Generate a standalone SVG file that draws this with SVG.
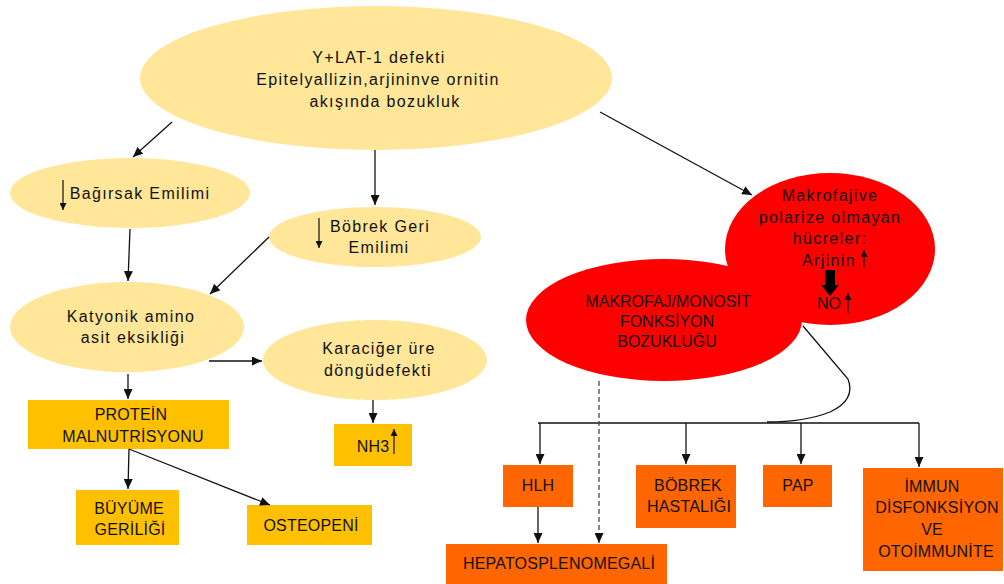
<svg xmlns="http://www.w3.org/2000/svg" width="1004" height="584" viewBox="0 0 1004 584">
<defs>
<marker id="ah" markerUnits="userSpaceOnUse" markerWidth="10" markerHeight="9" refX="10" refY="4.5" orient="auto"><path d="M0,0 L10,4.5 L0,9 z" fill="#111"/></marker>
<marker id="sm" markerUnits="userSpaceOnUse" markerWidth="7" markerHeight="7" refX="7" refY="3.5" orient="auto"><path d="M0,0 L7,3.5 L0,7 z" fill="#111"/></marker>
<style>
.el{fill:#FFE699}
.red{fill:#FF0000}
.yb{fill:#FFC000}
.ob{fill:#FF6600}
text{font-family:"Liberation Sans",Arial,sans-serif;font-size:16px;fill:#111;text-anchor:middle}
.sp{letter-spacing:1.35px}
.cp{letter-spacing:0.2px}
.ln{stroke:#111;stroke-width:1.3;fill:none}
.arr{stroke:#111;stroke-width:1.3;fill:none;marker-end:url(#ah)}
.sa{stroke:#111;stroke-width:1.2;fill:none;marker-end:url(#sm)}
.dash{stroke:#444;stroke-width:1.3;fill:none;stroke-dasharray:5,3;marker-end:url(#ah)}
</style>
</defs>
<g id="top">
<ellipse class="el" cx="376" cy="78" rx="236" ry="72"/>
<text class="sp" x="379" y="63">Y+LAT-1 defekti</text>
<text class="sp" x="378" y="85">Epitelyallizin,arjininve ornitin</text>
<text class="sp" x="385" y="107">akışında bozukluk</text>
</g>
<g id="bagirsak">
<ellipse class="el" cx="130" cy="193" rx="120" ry="35"/>
<text class="sp" x="140" y="199">Bağırsak Emilimi</text>
<line class="sa" x1="63" y1="180" x2="63" y2="210"/>
</g>
<g id="bobrek-geri">
<ellipse class="el" cx="375" cy="237" rx="106" ry="30"/>
<text class="sp" x="380" y="232">Böbrek Geri</text>
<text class="sp" x="379" y="253">Emilimi</text>
<line class="sa" x1="319" y1="218" x2="319" y2="248"/>
</g>
<g id="katyonik">
<ellipse class="el" cx="127" cy="327" rx="117" ry="45"/>
<text class="sp" x="131" y="322">Katyonik amino</text>
<text class="sp" x="133" y="343">asit eksikliği</text>
</g>
<g id="karaciger">
<ellipse class="el" cx="375" cy="360" rx="112" ry="40"/>
<text class="sp" x="379" y="354">Karaciğer üre</text>
<text class="sp" x="378" y="376">döngüdefekti</text>
</g>
<g id="protein">
<rect class="yb" x="28" y="400" width="201" height="49"/>
<text class="cp" x="131" y="420">PROTEİN</text>
<text class="cp" x="133" y="442">MALNUTRİSYONU</text>
</g>
<g id="nh3">
<rect class="yb" x="334" y="424" width="78" height="42"/>
<text class="cp" x="373" y="452">NH3</text>
<line class="sa" x1="394" y1="454" x2="394" y2="429"/>
</g>
<g id="buyume">
<rect class="yb" x="76" y="490" width="103" height="55"/>
<text class="cp" x="129" y="514">BÜYÜME</text>
<text class="cp" x="130" y="535">GERİLİĞİ</text>
</g>
<g id="osteopeni">
<rect class="yb" x="247" y="505" width="125" height="40"/>
<text class="cp" x="311" y="531">OSTEOPENİ</text>
</g>
<g id="makrofaj-polarize">
<ellipse class="red" cx="830" cy="249" rx="105" ry="76"/>
<text class="sp" x="830" y="201">Makrofajive</text>
<text class="sp" x="830" y="223">polarize olmayan</text>
<text class="sp" x="830" y="244">hücreler:</text>
<text class="sp" x="829" y="266">Arjinin</text>
<line class="sa" x1="864" y1="267" x2="864" y2="250"/>
<path d="M825,270 H835 V285 H839 L830,296 L821,285 H825 Z" fill="#000"/>
<text x="829" y="309">NO</text>
<line class="sa" x1="848" y1="313" x2="848" y2="293"/>
</g>
<g id="makrofaj-monosit">
<ellipse class="red" cx="664" cy="320" rx="138" ry="61"/>
<text x="668" y="307">MAKROFAJ/MONOSİT</text>
<text x="667" y="327">FONKSİYON</text>
<text x="667" y="347">BOZUKLUĞU</text>
</g>
<g id="hlh">
<rect class="ob" x="503" y="465" width="70" height="42"/>
<text class="cp" x="538" y="491">HLH</text>
</g>
<g id="bobrek-hastaligi">
<rect class="ob" x="636" y="465" width="100" height="63"/>
<text class="cp" x="688" y="491">BÖBREK</text>
<text class="cp" x="689" y="512">HASTALIĞI</text>
</g>
<g id="pap">
<rect class="ob" x="763" y="465" width="69" height="42"/>
<text class="cp" x="798" y="491">PAP</text>
</g>
<g id="immun">
<rect class="ob" x="863" y="468" width="140" height="103"/>
<text class="cp" x="932" y="492">İMMUN</text>
<text class="cp" x="937" y="513">DİSFONKSİYON</text>
<text class="cp" x="932" y="535">VE</text>
<text class="cp" x="936" y="557">OTOİMMUNİTE</text>
</g>
<g id="hepato">
<rect class="ob" x="446" y="544" width="221" height="40"/>
<text class="cp" x="559" y="569">HEPATOSPLENOMEGALİ</text>
</g>
<g id="connectors">
<line class="arr" x1="172" y1="122" x2="133" y2="157"/>
<line class="arr" x1="375" y1="150" x2="375" y2="205"/>
<line class="arr" x1="130" y1="229" x2="128" y2="281"/>
<line class="arr" x1="269" y1="237" x2="210" y2="294"/>
<line class="arr" x1="209" y1="361" x2="262" y2="361"/>
<line class="arr" x1="128" y1="374" x2="128" y2="399"/>
<line class="arr" x1="373" y1="400" x2="373" y2="423"/>
<line class="arr" x1="129" y1="449" x2="128" y2="489"/>
<line class="arr" x1="129" y1="449" x2="270" y2="505"/>
<line class="arr" x1="600" y1="112" x2="752" y2="195"/>
<path class="ln" d="M803,326 L848,379 Q856,400 830,412 Q805,422 767,422"/>
<path class="ln" d="M538,423 H919"/>
<line class="arr" x1="540" y1="423" x2="540" y2="464"/>
<line class="arr" x1="686" y1="423" x2="686" y2="464"/>
<line class="arr" x1="801" y1="423" x2="801" y2="464"/>
<line class="arr" x1="919" y1="423" x2="919" y2="467"/>
<line class="arr" x1="538" y1="507" x2="538" y2="543"/>
<line class="dash" x1="599" y1="381" x2="599" y2="543"/>
</g>
</svg>
